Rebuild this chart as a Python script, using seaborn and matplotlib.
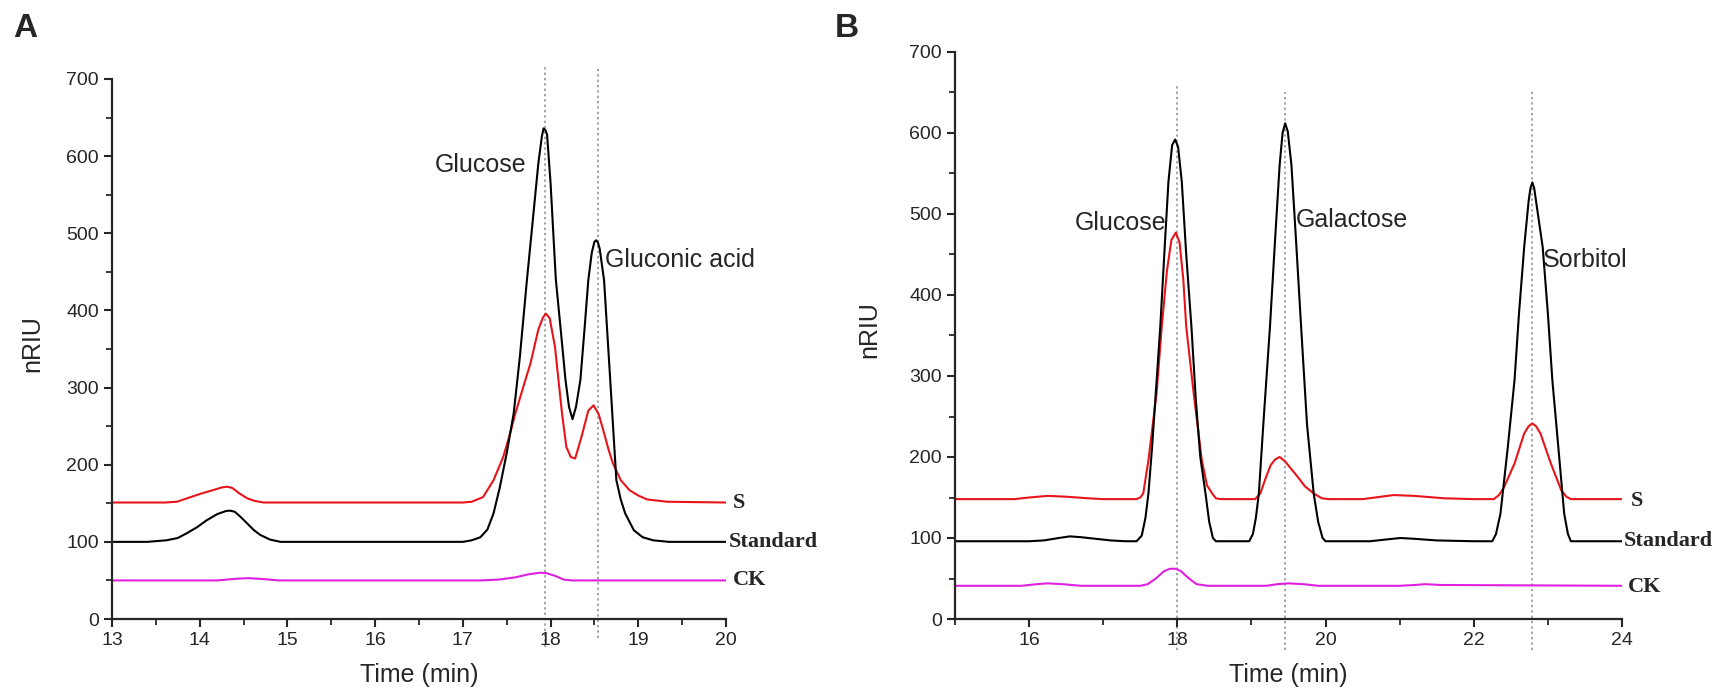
import pandas as pd
import seaborn as sns
import matplotlib.pyplot as plt
from matplotlib.ticker import MultipleLocator

# ---- panel A: (time, nRIU) points ----
a_std = [(13.0, 100), (13.4, 100), (13.62, 102), (13.75, 105), (13.85, 111), (13.97, 119), (14.08, 128),
         (14.2, 136), (14.3, 140), (14.345, 140.5), (14.4, 139), (14.47, 132), (14.54, 124), (14.62, 115),
         (14.69, 109), (14.8, 103), (14.92, 100), (15.05, 100), (17.0, 100), (17.1, 102), (17.2, 106),
         (17.28, 116), (17.35, 137), (17.42, 170), (17.5, 215), (17.58, 267), (17.65, 340), (17.73, 439),
         (17.8, 520), (17.86, 590), (17.9, 625), (17.92, 636), (17.94, 634), (17.96, 628), (18.0, 565),
         (18.06, 440), (18.12, 370), (18.17, 310), (18.21, 275), (18.25, 259), (18.29, 275), (18.34, 310),
         (18.39, 380), (18.43, 439), (18.47, 475), (18.5, 489), (18.52, 491), (18.54, 488), (18.56, 480),
         (18.61, 439), (18.68, 310), (18.75, 180), (18.8, 155), (18.85, 137), (18.95, 115), (19.05, 106),
         (19.17, 102), (19.35, 100), (20.0, 100)]

a_s = [(13.0, 151), (13.6, 151), (13.74, 152), (13.87, 157), (14.0, 162), (14.15, 167), (14.25, 170.5),
       (14.31, 171.5), (14.37, 170), (14.45, 163), (14.54, 156.5), (14.63, 153), (14.73, 151), (15.0, 151),
       (17.0, 151), (17.1, 152), (17.23, 158), (17.35, 180), (17.46, 210), (17.53, 237), (17.6, 267),
       (17.7, 305), (17.77, 331), (17.86, 375), (17.91, 390), (17.945, 396), (17.99, 390), (18.05, 353),
       (18.13, 267), (18.18, 223), (18.23, 210), (18.28, 208), (18.35, 235), (18.43, 270), (18.49, 277),
       (18.55, 265), (18.6, 245), (18.66, 220), (18.71, 202), (18.8, 180), (18.9, 167), (19.0, 160),
       (19.1, 155), (19.33, 152), (20.0, 151)]

a_ck = [(13.0, 50), (14.2, 50), (14.4, 52), (14.55, 53), (14.7, 52), (14.9, 50), (17.2, 50), (17.4, 51),
        (17.6, 54), (17.75, 58), (17.88, 60), (17.95, 59.5), (18.05, 56), (18.15, 51), (18.25, 50), (20.0, 50)]

a_marks = [17.94, 18.54]

# ---- panel B ----
b_std = [(15.0, 96), (16.0, 96), (16.2, 97), (16.4, 100), (16.55, 102), (16.7, 101), (16.9, 99), (17.1, 97),
         (17.3, 96), (17.45, 96), (17.52, 103), (17.57, 125), (17.61, 155), (17.66, 213), (17.71, 280),
         (17.77, 361), (17.83, 460), (17.88, 540), (17.93, 585), (17.97, 592), (18.01, 583), (18.06, 540),
         (18.12, 450), (18.19, 361), (18.25, 270), (18.31, 200), (18.38, 155), (18.43, 120), (18.48, 100),
         (18.52, 96), (18.97, 96), (19.02, 105), (19.06, 125), (19.1, 155), (19.16, 240), (19.25, 361),
         (19.32, 470), (19.38, 560), (19.42, 600), (19.455, 612), (19.49, 602), (19.54, 560), (19.6, 470),
         (19.67, 361), (19.75, 240), (19.84, 155), (19.9, 120), (19.96, 100), (20.0, 96), (20.6, 96),
         (20.8, 98), (21.01, 100), (21.2, 99), (21.5, 97), (22.0, 96), (22.25, 96), (22.3, 105), (22.36, 130),
         (22.46, 213), (22.55, 295), (22.61, 377), (22.68, 459), (22.74, 516), (22.765, 532), (22.79, 539),
         (22.815, 532), (22.84, 516), (22.93, 459), (23.0, 377), (23.06, 295), (23.14, 213), (23.22, 130),
         (23.27, 105), (23.31, 96), (24.0, 96)]

b_s = [(15.0, 148), (15.8, 148), (16.0, 150), (16.25, 152), (16.5, 151), (16.8, 149), (17.0, 148),
       (17.45, 148), (17.5, 150), (17.54, 155), (17.61, 196), (17.72, 279), (17.79, 361), (17.86, 430),
       (17.92, 468), (17.98, 477), (18.03, 465), (18.08, 420), (18.12, 361), (18.22, 279), (18.33, 196),
       (18.4, 165), (18.47, 155), (18.52, 149), (18.58, 148), (19.05, 148), (19.12, 155), (19.2, 176),
       (19.26, 190), (19.32, 197), (19.38, 200), (19.45, 195), (19.53, 186), (19.62, 176), (19.72, 164),
       (19.84, 155), (19.95, 149), (20.05, 148), (20.5, 148), (20.75, 151), (20.92, 153), (21.2, 152),
       (21.6, 149), (22.0, 148), (22.27, 148), (22.34, 153), (22.41, 163), (22.55, 192), (22.68, 229),
       (22.74, 238), (22.79, 241.5), (22.84, 238), (22.9, 229), (23.04, 192), (23.18, 159), (23.25, 151),
       (23.31, 148), (24.0, 148)]

b_ck = [(15.0, 41), (15.9, 41), (16.1, 43), (16.25, 44), (16.45, 43), (16.7, 41), (17.5, 41), (17.6, 43),
        (17.71, 50), (17.82, 59), (17.9, 62), (17.98, 62), (18.05, 59), (18.12, 53), (18.2, 47), (18.26, 43),
        (18.41, 41), (19.2, 41), (19.35, 43), (19.5, 44), (19.7, 43), (19.9, 41), (21.0, 41), (21.2, 42),
        (21.35, 43), (21.55, 42), (24.0, 41)]

b_marks = [18.0, 19.455, 22.79]

colors = {'S': '#e8141b', 'Standard': '#000000', 'CK': '#e020e0'}


def frame(parts):
    rows = []
    for name, pts in parts:
        d = pd.DataFrame(pts, columns=['time', 'nRIU'])
        d['trace'] = name
        rows.append(d)
    return pd.concat(rows, ignore_index=True)


df_a = frame([('S', a_s), ('Standard', a_std), ('CK', a_ck)])
df_b = frame([('S', b_s), ('Standard', b_std), ('CK', b_ck)])

sns.set_style('ticks')
plt.rcParams['font.family'] = ['Liberation Sans', 'DejaVu Sans']

fig = plt.figure(figsize=(17.12, 7), dpi=100)
ax_a = fig.add_axes([112 / 1712, 1 - 619 / 700, 614 / 1712, 540 / 700])
ax_b = fig.add_axes([955 / 1712, 1 - 619 / 700, 667 / 1712, 567 / 700])


def draw_panel(ax, df, xlim, xmajor, xminor, marks, tops, bottoms):
    sns.lineplot(data=df, x='time', y='nRIU', hue='trace', palette=colors,
                 units='trace', estimator=None, sort=False, legend=False,
                 linewidth=1.5, ax=ax)
    ax.vlines(marks, bottoms, tops, colors='#8a8a8a', linestyles=(0, (1.5, 2)),
              linewidth=1.1, clip_on=False, zorder=0)
    ax.set_xlim(*xlim)
    ax.set_ylim(0, 700)
    ax.xaxis.set_major_locator(MultipleLocator(xmajor))
    ax.xaxis.set_minor_locator(MultipleLocator(xminor))
    ax.yaxis.set_major_locator(MultipleLocator(100))
    ax.yaxis.set_minor_locator(MultipleLocator(50))
    ax.tick_params(which='major', length=6, width=1.5, labelsize=14, direction='out')
    ax.tick_params(which='minor', length=4, width=1.3, direction='out')
    for s in ['left', 'bottom']:
        ax.spines[s].set_linewidth(1.6)
    sns.despine(ax=ax)
    ax.set_xlabel('Time (min)', fontsize=18, labelpad=10)
    ax.set_ylabel('nRIU', fontsize=18)
    ax.yaxis.set_label_coords(-0.11, 0.51)


draw_panel(ax_a, df_a, (13, 20), 1, 0.5, a_marks, [718, 714], [-36, -25])
draw_panel(ax_b, df_b, (15, 24), 2, 1, b_marks, [659, 650, 653], [-38, -38, -38])

ann = dict(fontsize=18, va='center')
ax_a.text(17.72, 588, 'Glucose', ha='right', **ann)
ax_a.text(18.62, 465, 'Gluconic acid', ha='left', **ann)
ax_b.text(17.85, 489, 'Glucose', ha='right', **ann)
ax_b.text(19.6, 493, 'Galactose', ha='left', **ann)
ax_b.text(22.93, 443, 'Sorbitol', ha='left', **ann)

tag = dict(fontsize=16, fontweight='bold', family=['Liberation Serif', 'DejaVu Serif'],
           va='center', ha='left', clip_on=False)
ax_a.text(20.08, 151, 'S', **tag)
ax_a.text(20.03, 100, 'Standard', **tag)
ax_a.text(20.08, 50, 'CK', **tag)
ax_b.text(24.12, 146, 'S', **tag)
ax_b.text(24.02, 96, 'Standard', **tag)
ax_b.text(24.08, 39, 'CK', **tag)

fig.text(13 / 1712, 1 - 13 / 700, 'A', fontsize=24, fontweight='bold', va='top', ha='left')
fig.text(835 / 1712, 1 - 13 / 700, 'B', fontsize=24, fontweight='bold', va='top', ha='left')

fig.savefig('out.png', dpi=100)
